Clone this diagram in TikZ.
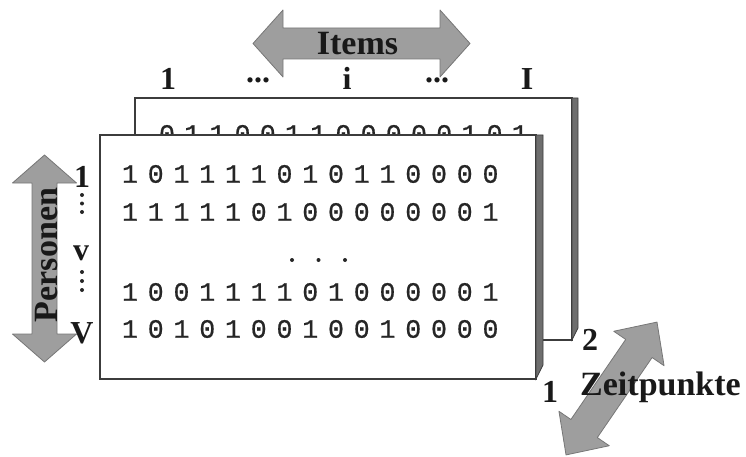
\documentclass[tikz,border=0pt]{standalone}
\usepackage{fontspec}
\setmainfont{Liberation Serif}
\newfontfamily\bitfont[FakeBold=0.7]{Liberation Mono}
\definecolor{arrowgray}{HTML}{9E9E9E}
\definecolor{arrowedge}{HTML}{777777}
\definecolor{sidegray}{HTML}{6E6E6E}
\definecolor{cardedge}{HTML}{3C3C3C}
% double-headed block arrow along the local x axis:
% #1 length, #2 half shaft width, #3 half head width, #4 head length
\newcommand{\blockarrowpath}[4]{(-#1/2,0) -- (-#1/2+#4,#3) -- (-#1/2+#4,#2) -- (#1/2-#4,#2) -- (#1/2-#4,#3) -- (#1/2,0) -- (#1/2-#4,-#3) -- (#1/2-#4,-#2) -- (-#1/2+#4,-#2) -- (-#1/2+#4,-#3) -- cycle}
\tikzset{
  arrowbody/.style={fill=arrowgray, draw=arrowedge, line width=0.8pt, line join=round},
  card/.style={fill=white, draw=cardedge, line width=1.3pt},
  cardside/.style={fill=sidegray, draw=cardedge, line width=0.8pt},
  lbl/.style={font=\fontsize{32}{36}\selectfont\bfseries, inner sep=0pt, text=black!90},
  biglbl/.style={font=\fontsize{34}{38}\selectfont\bfseries, inner sep=0pt, text=black!90},
  bit/.style={font=\bitfont\fontsize{26.5}{28}\selectfont, inner sep=0pt, text=black!85},
  dot/.style={fill=black!85, draw=none}
}
\begin{document}
\begin{tikzpicture}[x=1pt, y=-1pt]
\useasboundingbox (0,0) rectangle (746,457);

% item axis
\draw[arrowbody, shift={(361.5,43.5)}] \blockarrowpath{217}{15.5}{33.5}{30};
\node[biglbl, anchor=base] (items) at (357.5,55) {Items};

% column labels
\node[lbl, anchor=base] (c1) at (168,90) {1};
\node[lbl, anchor=base] (cd1) at (258,83) {...};
\node[lbl, anchor=base] (ci) at (347,90) {i};
\node[lbl, anchor=base] (cd2) at (437,83) {...};
\node[lbl, anchor=base] (cI) at (527,90) {I};

% second (back) data sheet
\draw[card] (135,98) rectangle (572,340);
\draw[cardside] (572,98) -- (578,98) -- (578,328) -- (572,340) -- cycle;
\foreach \d [count=\k from 0] in {0,1,1,0,0,1,1,0,0,0,0,0,1,0,1}
  \node[bit] (b-\k) at (167+25.2*\k,134) {\d};

% first (front) data sheet
\draw[card] (100,135) rectangle (536,379);
\draw[cardside] (536,135) -- (543,135) -- (543,365) -- (536,379) -- cycle;
\foreach \d [count=\k from 0] in {1,0,1,1,1,1,0,1,0,1,1,0,0,0,0}
  \node[bit] (r1-\k) at (130+25.75*\k,174) {\d};
\foreach \d [count=\k from 0] in {1,1,1,1,1,0,1,0,0,0,0,0,0,0,1}
  \node[bit] (r2-\k) at (130+25.75*\k,212) {\d};
\foreach \d [count=\k from 0] in {1,0,0,1,1,1,1,0,1,0,0,0,0,0,1}
  \node[bit] (r3-\k) at (130+25.75*\k,292) {\d};
\foreach \d [count=\k from 0] in {1,0,1,0,1,0,0,1,0,0,1,0,0,0,0}
  \node[bit] (r4-\k) at (130+25.75*\k,329) {\d};
\foreach \x in {292,318.5,345}
  \fill[dot] (\x,260) circle (2);

% person axis
\draw[arrowbody, shift={(44.5,258.5)}, rotate=90] \blockarrowpath{207}{12.5}{32}{28};
\node[biglbl, rotate=90, anchor=base] (personen) at (57,255) {Personen};

% row labels
\node[lbl, anchor=base] (p1) at (82,187) {1};
\foreach \y in {195,203.5,212}
  \fill[dot] (82,\y) circle (2);
\node[lbl, anchor=base] (pv) at (81,260) {v};
\foreach \y in {272,281,290}
  \fill[dot] (82,\y) circle (2);
\node[lbl, anchor=base] (pV) at (82,343) {V};

% time axis
\draw[arrowbody, shift={(611.5,388.5)}, rotate=55.6] \blockarrowpath{161}{16}{30.5}{32};
\node[lbl, anchor=base] (t2) at (590,350) {2};
\node[lbl, anchor=base] (t1) at (550,402) {1};
\node[biglbl, anchor=base west] (zeit) at (580,395) {Zeitpunkte};
\end{tikzpicture}
\end{document}
